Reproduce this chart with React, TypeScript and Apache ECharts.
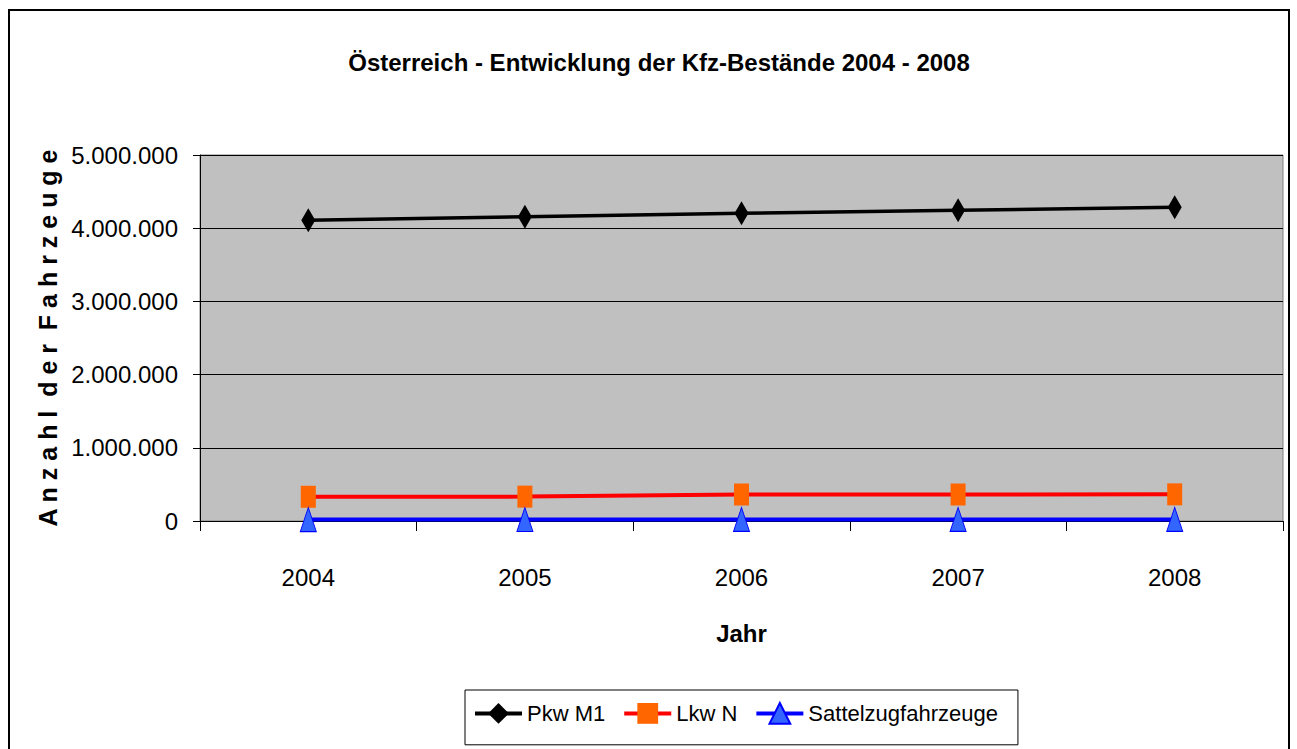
import React, { useEffect, useRef } from "react";
import * as echarts from "echarts";

const years = ["2004", "2005", "2006", "2007", "2008"];
const pkwM1 = [4109129, 4156743, 4204969, 4245583, 4284919];
const lkwN = [331000, 333000, 362000, 362000, 364000];
const sattelzug = [20000, 20500, 21000, 21500, 22000];
const yTicks = { min: 0, max: 5000000, interval: 1000000 };

const FONT = "'Liberation Sans', Arial, sans-serif";

function fmt(v: number): string {
  return String(Math.round(v)).replace(/\B(?=(\d{3})+(?!\d))/g, ".");
}

export default function App() {
  const ref = useRef<HTMLDivElement>(null);
  useEffect(() => {
    document.body.style.margin = "0";
    const chart = echarts.init(ref.current!, null, { renderer: "svg" });
    chart.setOption({
      animation: false,
      backgroundColor: "#ffffff",
      textStyle: { fontFamily: FONT },
      title: {
        text: "Österreich - Entwicklung der Kfz-Bestände 2004 - 2008",
        left: 654,
        top: 45,
        textAlign: "center",
        textStyle: { fontFamily: FONT, fontSize: 24, fontWeight: "bold", color: "#000" },
      },
      graphic: [
        {
          type: "rect",
          shape: { x: 9, y: 10, width: 1280, height: 760 },
          style: { fill: "none", stroke: "#000", lineWidth: 2 },
          silent: true,
        },
      ],
      legend: {
        left: 465,
        top: 690,
        orient: "horizontal",
        padding: [12, 20, 20, 8],
        borderColor: "#000",
        borderWidth: 1,
        itemWidth: 47,
        itemHeight: 26,
        itemGap: 17,
        lineStyle: { width: 4 },
        textStyle: { fontFamily: FONT, fontSize: 22, color: "#000" },
        data: ["Pkw M1", "Lkw N", "Sattelzugfahrzeuge"],
      },
      grid: {
        left: 200,
        right: 14,
        top: 155,
        bottom: 228,
        show: true,
        backgroundColor: "#c0c0c0",
        borderColor: "#808080",
        borderWidth: 1,
      },
      xAxis: {
        type: "category",
        data: years,
        boundaryGap: true,
        name: "Jahr",
        nameLocation: "middle",
        nameGap: 100,
        nameTextStyle: { fontFamily: FONT, fontSize: 24, fontWeight: "bold", color: "#000" },
        axisLine: { show: true, lineStyle: { color: "#000", width: 1 } },
        axisTick: { show: true, length: 10, lineStyle: { color: "#000" } },
        axisLabel: { margin: 44, fontFamily: FONT, fontSize: 24, color: "#000" },
      },
      yAxis: {
        type: "value",
        min: yTicks.min,
        max: yTicks.max,
        interval: yTicks.interval,
        name: "A n z a h l  d e r  F a h r z e u g e",
        nameLocation: "middle",
        nameGap: 138,
        nameTextStyle: { fontFamily: FONT, fontSize: 25, fontWeight: "bold", color: "#000" },
        axisLine: { show: true, lineStyle: { color: "#000", width: 1 } },
        axisTick: { show: true, length: 7, lineStyle: { color: "#000" } },
        axisLabel: {
          margin: 22,
          fontFamily: FONT,
          fontSize: 24,
          color: "#000",
          formatter: (v: number) => fmt(v),
        },
        splitLine: { show: true, lineStyle: { color: "#000", width: 1 } },
      },
      series: [
        {
          name: "Pkw M1",
          type: "line",
          data: pkwM1,
          symbol: "diamond",
          symbolSize: [14, 24],
          lineStyle: { color: "#000", width: 3.5 },
          itemStyle: { color: "#000", borderWidth: 0 },
          z: 3,
        },
        {
          name: "Lkw N",
          type: "line",
          data: lkwN,
          symbol: "rect",
          symbolSize: [15, 22],
          lineStyle: { color: "#ff0000", width: 4 },
          itemStyle: { color: "#ff6600", borderWidth: 0 },
          z: 2,
        },
        {
          name: "Sattelzugfahrzeuge",
          type: "line",
          data: sattelzug,
          symbol: "triangle",
          symbolSize: [16, 24],
          lineStyle: { color: "#0000ff", width: 4 },
          itemStyle: { color: "#3366ff", borderColor: "#0000ff", borderWidth: 1 },
          z: 2,
        },
      ],
    });
    return () => chart.dispose();
  }, []);
  return (
    <div
      ref={ref}
      style={{ position: "absolute", left: 0, top: 0, width: 1297, height: 749 }}
    />
  );
}
